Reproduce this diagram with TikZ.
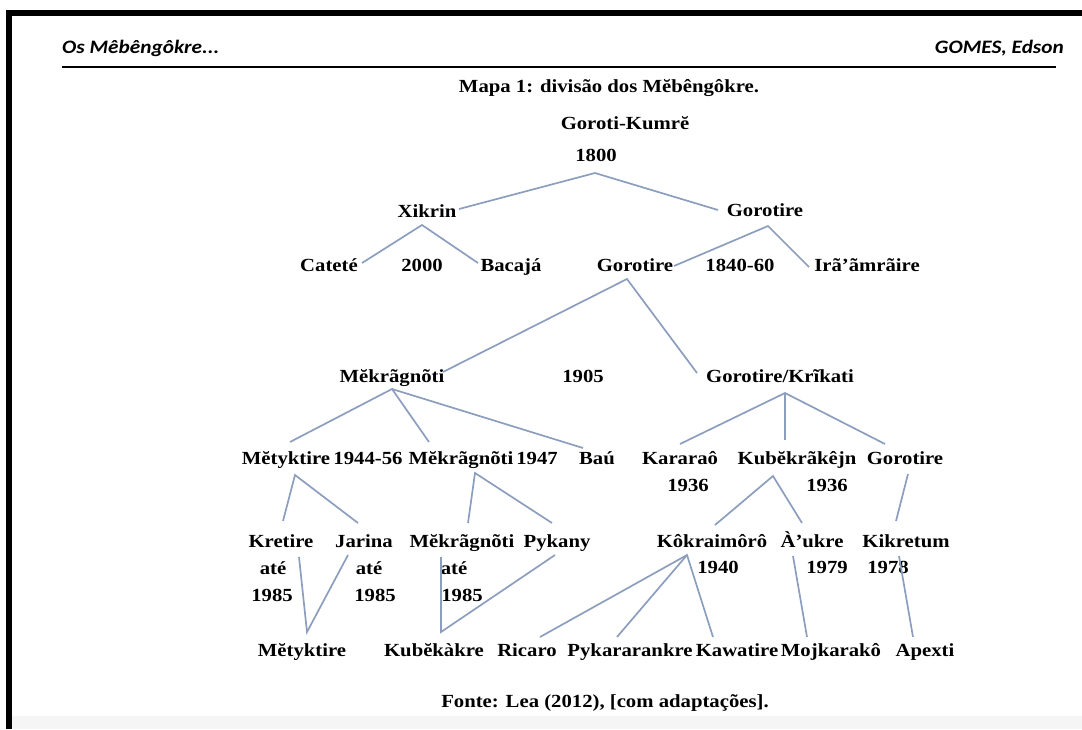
\documentclass[tikz,border=0pt]{standalone}
\usepackage{fontspec}
\setmainfont{Liberation Serif}[FakeStretch=1.12]
\newfontfamily\hdrfont{Carlito}[FakeStretch=1.12]
\usetikzlibrary{calc}
\definecolor{linkc}{RGB}{140,158,190}
\tikzset{
  lab/.style={font=\fontsize{18.5}{20}\selectfont\bfseries, inner sep=1pt, text height=13pt, text depth=4pt, anchor=center},
  hdr/.style={font=\fontsize{19}{21}\selectfont\hdrfont\bfseries\itshape, inner sep=0pt},
  link/.style={draw=linkc, line width=1.7pt}
}
\begin{document}
\begin{tikzpicture}[x=1pt,y=-1pt]
\useasboundingbox (0,0) rectangle (1082,729);
% frame
\fill[black] (6,10) rectangle (1082,16);
\fill[black] (6,10) rectangle (12,729);
\fill[gray!8] (12,716) rectangle (1082,729);
% header
\node[hdr, anchor=west] (hl) at (62,48) {Os Mêbêngôkre...};
\node[hdr, anchor=east] (hr) at (1064,48) {GOMES, Edson};
\coordinate (rl) at (62,67);
\coordinate (rr) at (1056,67);
\draw[line width=1.5pt] (rl) -- (rr);
\node[lab] (title) at (609,88) {Mapa 1: divisão dos Mĕbêngôkre.};
% nodes
\node[lab] (gk) at (625,125) {Goroti-Kumrĕ};
\node[lab] (y1800) at (596,157) {1800};
\node[lab] (xik) at (427,213) {Xikrin};
\node[lab] (gor2) at (765,212) {Gorotire};
\node[lab] (cat) at (329,267) {Cateté};
\node[lab] (y2000) at (422,267) {2000};
\node[lab] (bac) at (511,267) {Bacajá};
\node[lab] (gor3) at (635,267) {Gorotire};
\node[lab] (y1840) at (740,267) {1840-60};
\node[lab] (ira) at (867,267) {Irã'ãmrãire};
\node[lab] (mek) at (392,378) {Mĕkrãgnõti};
\node[lab] (y1905) at (583,378) {1905};
\node[lab] (gk2) at (780,378) {Gorotire/Krĩkati};
\node[lab] (met) at (286,460) {Mĕtyktire};
\node[lab] (y1944) at (368,460) {1944-56};
\node[lab] (mek2) at (461,460) {Mĕkrãgnõti};
\node[lab] (y1947) at (537,460) {1947};
\node[lab] (bau) at (597,460) {Baú};
\node[lab] (kar) at (680,460) {Kararaô};
\node[lab] (y1936a) at (688,487) {1936};
\node[lab] (kub) at (797,460) {Kubĕkrãkêjn};
\node[lab] (y1936b) at (827,487) {1936};
\node[lab] (gor4) at (905,460) {Gorotire};
\node[lab] (kre) at (281,543) {Kretire};
\node[lab] (jar) at (364,543) {Jarina};
\node[lab] (mek3) at (462,543) {Mĕkrãgnõti};
\node[lab] (pyk) at (557,543) {Pykany};
\node[lab] (kok) at (712,543) {Kôkraimôrô};
\node[lab] (auk) at (812,543) {À'ukre};
\node[lab] (kik) at (906,543) {Kikretum};
\node[lab] (ate1) at (273,570) {até};
\node[lab] (y1985a) at (272,597) {1985};
\node[lab] (ate2) at (369,570) {até};
\node[lab] (y1985b) at (375,597) {1985};
\node[lab] (ate3) at (454,570) {até};
\node[lab] (y1985c) at (462,597) {1985};
\node[lab] (y1940) at (718,569) {1940};
\node[lab] (y1979) at (827,569) {1979};
\node[lab] (y1978) at (888,569) {1978};
\node[lab] (met2) at (302,652) {Mĕtyktire};
\node[lab] (kbk) at (434,652) {Kubĕkàkre};
\node[lab] (ric) at (527,652) {Ricaro};
\node[lab] (pkr) at (630,652) {Pykararankre};
\node[lab] (kaw) at (737,652) {Kawatire};
\node[lab] (moj) at (831,652) {Mojkarakô};
\node[lab] (apx) at (925,652) {Apexti};
\node[lab] (fonte) at (605,703) {Fonte: Lea (2012), [com adaptações].};
% connectors
\draw[link] ($(xik)+(32,-4)$) -- ($(y1800)+(-1,16)$) -- ($(gor2)+(-47,-2)$);
\draw[link] ($(cat)+(33,-4)$) -- ($(xik)+(-5,12)$) -- ($(bac)+(-33,-4)$);
\draw[link] ($(gor3)+(39,-1)$) -- ($(gor2)+(3,14)$) -- ($(ira)+(-58,0)$);
\draw[link] ($(mek)+(51,-6)$) -- ($(gor3)+(-8,12)$) -- ($(gk2)+(-83,-5)$);
\draw[link] ($(met)+(4,-18)$) -- ($(mek)+(0,11)$) -- ($(mek2)+(-32,-18)$);
\draw[link] ($(mek)+(0,11)$) -- ($(bau)+(-14,-12)$);
\draw[link] ($(kar)+(0,-16)$) -- ($(gk2)+(5,15)$) -- ($(gor4)+(-20,-16)$);
\draw[link] ($(gk2)+(5,15)$) -- ($(kub)+(-12,-20)$);
\draw[link] ($(kok)+(3,-18)$) -- ($(kub)+(-24,16)$) -- ($(auk)+(-10,-20)$);
\draw[link] ($(gor4)+(3,14)$) -- ($(kik)+(-10,-22)$);
\draw[link] ($(kre)+(2,-22)$) -- ($(met)+(9,15)$) -- ($(jar)+(-6,-20)$);
\draw[link] ($(mek3)+(6,-20)$) -- ($(mek2)+(14,13)$) -- ($(pyk)+(-5,-20)$);
\draw[link] ($(kre)+(18,14)$) -- ($(met2)+(5,-20)$) -- ($(jar)+(-16,12)$);
\draw[link] ($(mek3)+(-21,14)$) -- ($(kbk)+(7,-20)$) -- ($(pyk)+(-2,12)$);
\draw[link] ($(ric)+(13,-15)$) -- ($(kok)+(-25,12)$) -- ($(kaw)+(-24,-15)$);
\draw[link] ($(kok)+(-25,12)$) -- ($(pkr)+(-13,-15)$);
\draw[link] ($(auk)+(-19,13)$) -- ($(moj)+(-24,-15)$);
\draw[link] ($(kik)+(-7,13)$) -- ($(apx)+(-12,-15)$);
\end{tikzpicture}
\end{document}
